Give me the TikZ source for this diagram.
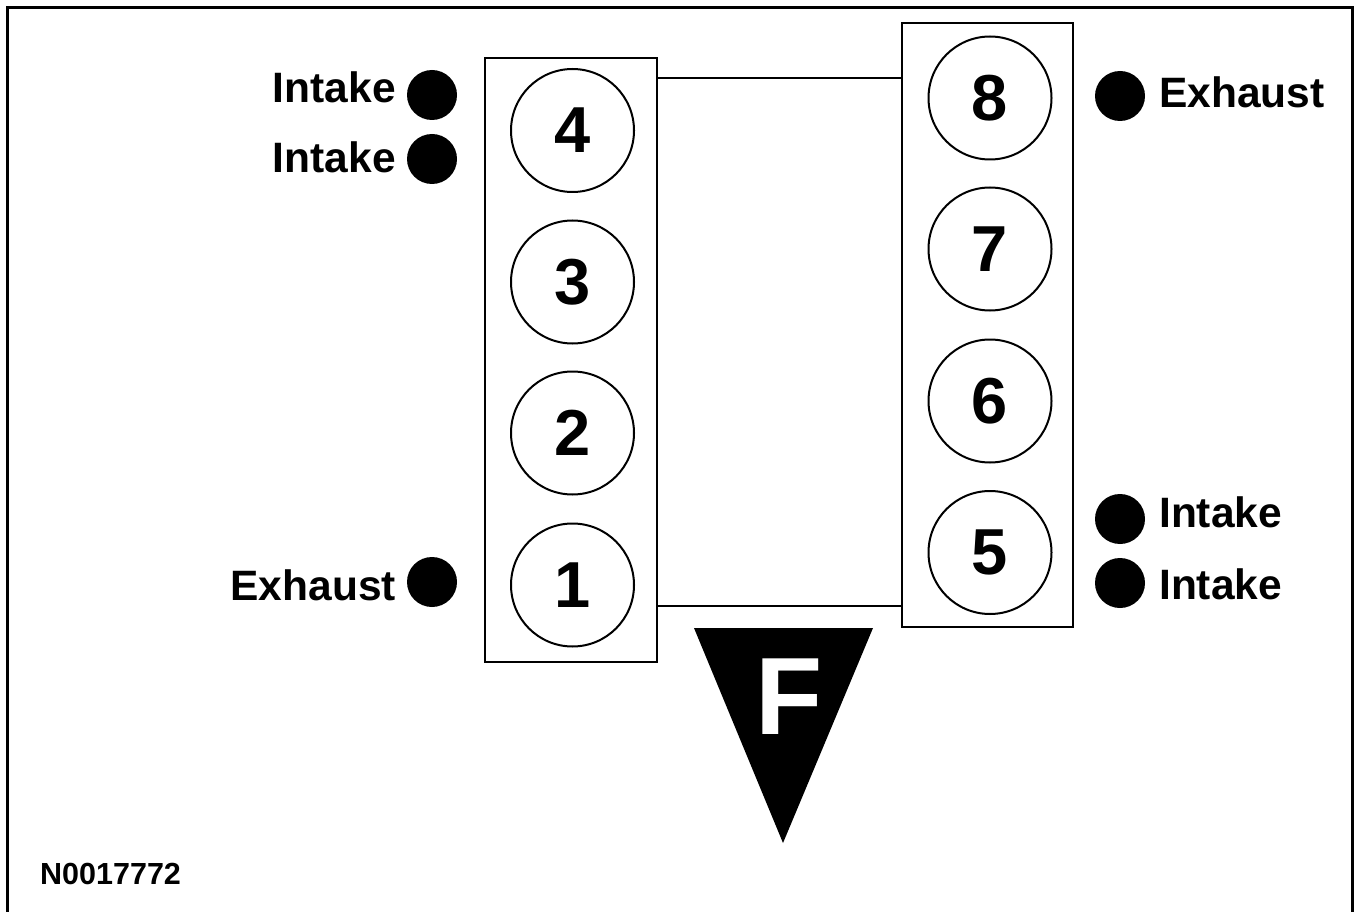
\documentclass[tikz,border=0pt]{standalone}
\usepackage{fontspec}
\setmainfont{Liberation Sans}
\begin{document}
\begin{tikzpicture}[x=1pt,y=-1pt,
  bank/.style={draw,rectangle,line width=2pt,inner sep=0pt},
  cyl/.style={draw,circle,line width=2pt,minimum size=123pt,inner sep=0pt,
    font=\fontsize{65}{65}\selectfont\bfseries},
  valve/.style={fill,circle,minimum size=50pt,inner sep=0pt},
  lbl/.style={inner sep=0pt,font=\fontsize{42.5}{42.5}\selectfont\bfseries}]
\useasboundingbox (0,0) rectangle (1358,912);
\draw[line width=3pt] (7.5,912) -- (7.5,7.5) -- (1352.5,7.5) -- (1352.5,912);

% banks
\node[bank,minimum width=172pt,minimum height=604pt] (lbank) at (571,360) {};
\node[bank,minimum width=171pt,minimum height=604pt] (rbank) at (987.5,325) {};
\draw[line width=2pt] (lbank.east |- 0,78) -- (rbank.west |- 0,78);
\draw[line width=2pt] (lbank.east |- 0,606) -- (rbank.west |- 0,606);

% cylinders
\foreach \n/\y in {4/130.5,3/282,2/433,1/585}
  \node[cyl] (c\n) at (572.5,\y) {\n};
\foreach \n/\y in {8/98,7/249,6/401,5/552.5}
  \node[cyl] (c\n) at (990,\y) {\n};

% valves
\node[valve] (vl1) at (432,95) {};
\node[valve] (vl2) at (432,159) {};
\node[valve] (vl3) at (432,582) {};
\node[valve] (vr1) at (1120,96) {};
\node[valve] (vr2) at (1120,519) {};
\node[valve] (vr3) at (1120,583) {};

\node[lbl,anchor=base east] (tl1) at (396,103) {Intake};
\node[lbl,anchor=base east] (tl2) at (396,173) {Intake};
\node[lbl,anchor=base east] (tl3) at (396,600) {Exhaust};
\node[lbl,anchor=base west] (tr1) at (1159,108) {Exhaust};
\node[lbl,anchor=base west] (tr2) at (1159,527) {Intake};
\node[lbl,anchor=base west] (tr3) at (1159,599) {Intake};

% front
\fill (694,628) -- (873,628) -- (783,843) -- cycle;
\node[text=white,inner sep=0pt,font=\fontsize{110}{110}\selectfont\bfseries] (front) at (789.5,696.5) {F};

\node[inner sep=0pt,anchor=base west,font=\fontsize{30.5}{30.5}\selectfont\bfseries] (ref) at (40,884) {N0017772};
\end{tikzpicture}
\end{document}
